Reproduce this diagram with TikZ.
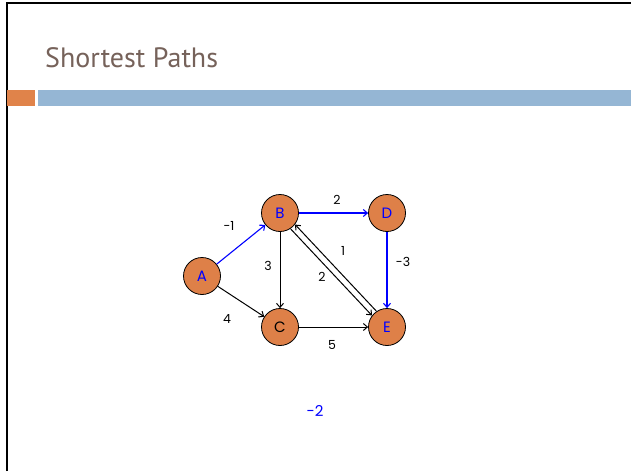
\documentclass[tikz,border=0pt]{standalone}
\usepackage{fontspec}
\setmainfont{Poppins}
\newfontfamily\titlefont{PT Sans}
\usetikzlibrary{arrows.meta}

\definecolor{titlegray}{RGB}{118,98,90}
\definecolor{barorange}{RGB}{224,131,74}
\definecolor{barblue}{RGB}{149,182,212}
\definecolor{nodeorange}{RGB}{222,128,72}
\definecolor{pathblue}{RGB}{0,0,255}

\tikzset{
  vertex/.style={circle,draw=black,line width=0.8pt,fill=nodeorange,minimum size=37pt,inner sep=0pt,
    font=\fontsize{15}{15}\selectfont},
  edge/.style={-{Straight Barb[length=4pt,width=7pt]},line width=1pt},
  best/.style={edge,draw=pathblue,line width=1.1pt},
  wlabel/.style={font=\fontsize{12.5}{12.5}\selectfont}
}

\begin{document}
\begin{tikzpicture}[x=1pt,y=-1pt]
	\useasboundingbox (0,0) rectangle (631,471);
	% slide frame and header
	\draw[line width=2.2pt] (7,471) -- (7,3) -- (631,3);
	\fill[barorange] (7,90) rectangle (35,106);
	\fill[barblue] (38,90) rectangle (631,106);
	\node[anchor=base west,inner sep=0pt,text=titlegray,font=\titlefont\fontsize{28}{28}\selectfont] (title) at (45,67) {Shortest Paths};
	% vertices
	\node[vertex,text=pathblue] (A) at (202,276) {A};
	\node[vertex,text=pathblue] (B) at (280,213) {B};
	\node[vertex,text=pathblue] (D) at (387,213) {D};
	\node[vertex] (C) at (280,327) {C};
	\node[vertex,text=pathblue] (E) at (387,327) {E};
	% edges
	\draw[best] (A) -- (B);
	\draw[best] (B) -- (D);
	\draw[best] (D) -- (E);
	\draw[edge] (A) -- (C);
	\draw[edge] (B) -- (C);
	\draw[edge] (C) -- (E);
	\draw[edge,transform canvas={xshift=-2.2pt,yshift=-2.2pt}] (B) -- (E);
	\draw[edge,transform canvas={xshift=2.2pt,yshift=2.2pt}] (E) -- (B);
	% weights
	\node[wlabel] (wAB) at (229,226) {-1};
	\node[wlabel] (wBD) at (337,200) {2};
	\node[wlabel] (wBC) at (268,266) {3};
	\node[wlabel] (wEB) at (343,251) {1};
	\node[wlabel] (wBE) at (322,277) {2};
	\node[wlabel] (wDE) at (403,262) {-3};
	\node[wlabel] (wAC) at (227,319) {4};
	\node[wlabel] (wCE) at (332,345) {5};
	\node[text=pathblue,font=\fontsize{15}{15}\selectfont] (total) at (315,411) {-2};
\end{tikzpicture}
\end{document}
